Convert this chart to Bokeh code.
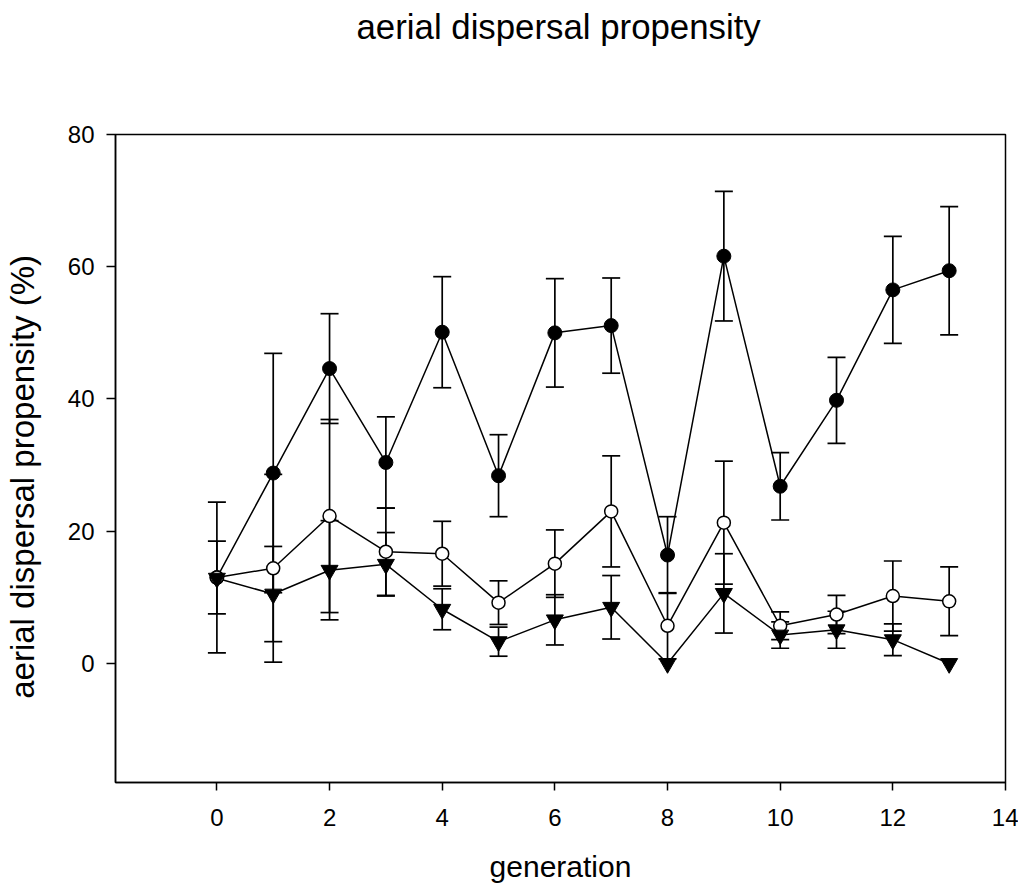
import numpy as np
from bokeh.plotting import figure
from bokeh.models import Range1d, FixedTicker, Title
from bokeh.embed import file_html
from bokeh.resources import INLINE

# ---- data ----
generation = [0, 1, 2, 3, 4, 5, 6, 7, 8, 9, 10, 11, 12, 13]

filled_mean = [13.0, 28.8, 44.6, 30.4, 50.1, 28.4, 50.0, 51.1, 16.4, 61.6, 26.8, 39.8, 56.5, 59.4]
filled_err = [11.4, 18.1, 8.3, 6.9, 8.4, 6.2, 8.2, 7.2, 5.8, 9.8, 5.1, 6.5, 8.1, 9.7]

open_mean = [13.0, 14.4, 22.3, 16.9, 16.6, 9.2, 15.1, 23.0, 5.7, 21.3, 5.7, 7.4, 10.2, 9.4]
open_err = [5.5, 14.2, 14.6, 6.6, 4.9, 3.3, 5.1, 8.4, 5.0, 9.3, 2.1, 2.9, 5.3, 5.2]

tri_mean = [12.9, 10.5, 14.1, 15.0, 8.2, 3.3, 6.6, 8.5, 0.0, 10.6, 4.3, 5.1, 3.6, 0.0]
tri_err = [0.0, 7.2, 7.5, 4.8, 3.1, 2.2, 3.8, 4.8, 0.0, 6.0, 2.0, 2.8, 2.4, 0.0]

x_ticks = [0, 2, 4, 6, 8, 10, 12, 14]
y_ticks = [0, 20, 40, 60, 80]

title_text = "aerial dispersal propensity"
x_label = "generation"
y_label = "aerial dispersal propensity (%)"

FONT = "Liberation Sans"

p = figure(width=1018, height=887,
           x_range=Range1d(-1.8, 14), y_range=Range1d(-18, 80),
           output_backend="svg", toolbar_location=None,
           min_border_left=114, min_border_right=13,
           min_border_top=134, min_border_bottom=105,
           background_fill_color="white", border_fill_color="white")

# spacer panel right above the frame, then the real title on top of it
p.add_layout(Title(text="\u00a0", text_font_size="10px", standoff=73), "above")
p.add_layout(Title(text=title_text, text_font=FONT, text_font_size="34.8px",
                   text_font_style="normal", text_color="black",
                   align="left", offset=241, standoff=6), "above")

p.xgrid.grid_line_color = None
p.ygrid.grid_line_color = None
p.outline_line_color = "black"
p.outline_line_width = 1.5
p.outline_line_alpha = 1.0

p.xaxis.ticker = FixedTicker(ticks=x_ticks)
p.yaxis.ticker = FixedTicker(ticks=y_ticks)
p.xaxis.axis_label = x_label
# non-breaking spaces keep the label a little below the frame centre, as in the reference
p.yaxis.axis_label = y_label + "\u00a0\u00a0\u00a0\u00a0"

for ax, tick_out, lab_standoff, ax_standoff, lab_size in (
        (p.xaxis[0], 8, 18, 21, "30px"),
        (p.yaxis[0], 9, 12, 24, "33px")):
    ax.axis_line_color = "black"
    ax.axis_line_width = 1.5
    ax.major_tick_line_color = "black"
    ax.major_tick_line_width = 1.5
    ax.major_tick_in = 0
    ax.major_tick_out = tick_out
    ax.minor_tick_line_color = None
    ax.major_label_text_font = FONT
    ax.major_label_text_font_size = "24px"
    ax.major_label_text_color = "black"
    ax.major_label_standoff = lab_standoff
    ax.axis_label_text_font = FONT
    ax.axis_label_text_font_size = lab_size
    ax.axis_label_text_font_style = "normal"
    ax.axis_label_text_color = "black"
    ax.axis_label_standoff = ax_standoff

gen = np.array(generation, dtype=float)
series = [
    (np.array(filled_mean), np.array(filled_err)),
    (np.array(open_mean), np.array(open_err)),
    (np.array(tri_mean), np.array(tri_err)),
]

# error bars first
for mean, err in series:
    m = err > 0
    p.segment(x0=gen[m], y0=(mean - err)[m], x1=gen[m], y1=(mean + err)[m],
              line_color="black", line_width=1.7)
    p.scatter(gen[m], (mean + err)[m], marker="dash", size=18,
              line_color="black", line_width=1.7)
    p.scatter(gen[m], (mean - err)[m], marker="dash", size=18,
              line_color="black", line_width=1.7)

# connecting lines
for mean, err in series:
    p.line(gen, mean, line_color="black", line_width=1.5)

# symbols
p.scatter(gen, series[0][0], marker="circle", size=14,
          fill_color="black", line_color="black", line_width=1)
p.scatter(gen, series[1][0], marker="circle", size=13,
          fill_color="white", line_color="black", line_width=1.5)
p.scatter(gen, series[2][0], marker="inverted_triangle", size=17,
          fill_color="black", line_color="black", line_width=1)

open("out.html", "w").write(file_html(p, INLINE))
